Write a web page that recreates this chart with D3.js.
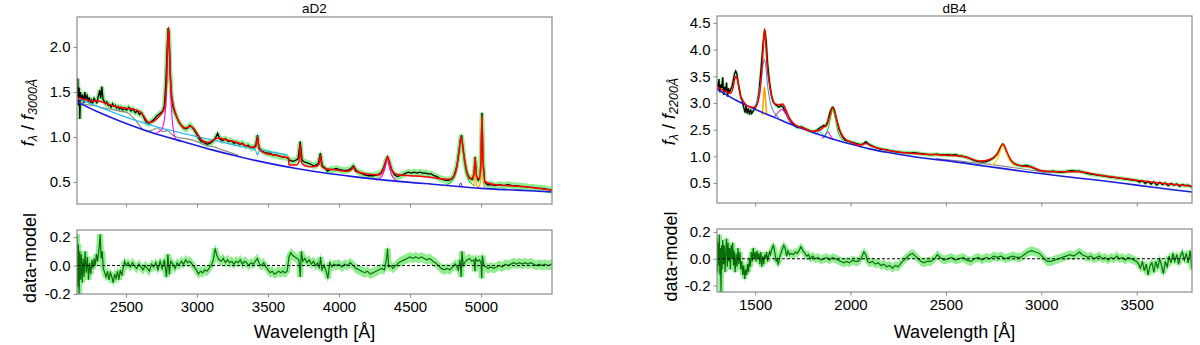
<!DOCTYPE html>
<meta charset="utf-8">
<style>
body { margin: 0; background: #fff; }
svg { font-family: "Liberation Sans", Arial, sans-serif; }
.frame { fill: none; stroke: #8a8a8a; stroke-width: 1.2; }
.tick line { stroke: #8a8a8a; }
.tick text { font-size: 15px; fill: #000; }
</style>
<svg width="1200" height="345"></svg>
<script src="https://cdn.jsdelivr.net/npm/d3@7"></script>
<script>

// ---------- aD2 (left) ----------
var aD2Data = [[2155,1.45],[2160,1.65],[2165,1.35],[2170,1.55],[2175,1.2],[2180,1.5],[2188,1.4],[2195,1.47],[2203,1.38],[2210,1.5],[2218,1.42],[2226,1.46],[2234,1.4],[2242,1.44],[2250,1.37],[2258,1.41],[2266,1.38],[2275,1.43],[2285,1.4],[2295,1.38],[2305,1.45],[2315,1.52],[2322,1.43],[2330,1.56],[2338,1.42],[2346,1.4],[2355,1.37],[2365,1.39],[2375,1.35],[2385,1.36],[2395,1.33],[2405,1.37],[2415,1.34],[2425,1.35],[2435,1.32],[2445,1.34],[2455,1.31],[2465,1.33],[2475,1.3],[2490,1.32],[2505,1.3],[2520,1.33],[2535,1.29],[2550,1.31],[2565,1.27],[2580,1.29],[2595,1.25],[2610,1.27],[2625,1.22],[2640,1.17],[2655,1.15],[2670,1.16],[2685,1.18],[2700,1.2],[2715,1.23],[2730,1.25],[2745,1.27],[2760,1.29],[2770,1.35],[2780,1.58],[2790,1.98],[2797,2.21],[2803,2.15],[2810,1.75],[2820,1.45],[2832,1.33],[2845,1.27],[2860,1.21],[2875,1.16],[2890,1.13],[2905,1.1],[2920,1.09],[2935,1.1],[2950,1.13],[2965,1.11],[2980,1.08],[2995,1.04],[3010,0.99],[3030,0.95],[3050,0.94],[3070,0.92],[3090,0.93],[3110,0.95],[3130,0.99],[3145,1.04],[3160,0.98],[3180,0.96],[3200,0.98],[3220,0.95],[3240,0.96],[3260,0.93],[3280,0.94],[3300,0.92],[3320,0.93],[3340,0.9],[3360,0.91],[3380,0.88],[3400,0.88],[3415,0.92],[3426,1.02],[3436,0.88],[3455,0.85],[3475,0.83],[3495,0.82],[3515,0.82],[3535,0.8],[3555,0.8],[3575,0.79],[3595,0.78],[3615,0.78],[3635,0.77],[3655,0.74],[3675,0.73],[3695,0.74],[3712,0.76],[3727,0.95],[3740,0.74],[3760,0.72],[3780,0.71],[3800,0.7],[3820,0.68],[3840,0.69],[3855,0.71],[3869,0.82],[3882,0.68],[3900,0.66],[3920,0.62],[3940,0.64],[3960,0.64],[3980,0.65],[4000,0.64],[4030,0.63],[4060,0.63],[4085,0.65],[4102,0.68],[4120,0.63],[4150,0.6],[4180,0.58],[4210,0.57],[4240,0.57],[4270,0.58],[4295,0.6],[4315,0.66],[4330,0.74],[4342,0.78],[4355,0.72],[4370,0.64],[4390,0.58],[4410,0.56],[4430,0.57],[4450,0.58],[4470,0.6],[4490,0.61],[4510,0.6],[4530,0.61],[4550,0.6],[4570,0.61],[4590,0.6],[4610,0.6],[4630,0.59],[4650,0.59],[4670,0.57],[4690,0.56],[4710,0.54],[4730,0.53],[4750,0.52],[4770,0.52],[4790,0.53],[4810,0.57],[4830,0.68],[4845,0.85],[4855,0.98],[4863,1.02],[4872,0.9],[4885,0.72],[4900,0.6],[4920,0.54],[4940,0.53],[4952,0.6],[4959,0.78],[4966,0.58],[4980,0.52],[4995,0.55],[5000,0.8],[5007,1.27],[5014,0.75],[5025,0.5],[5045,0.47],[5070,0.47],[5100,0.46],[5130,0.47],[5160,0.46],[5190,0.47],[5220,0.46],[5250,0.46],[5280,0.45],[5310,0.45],[5340,0.44],[5370,0.44],[5400,0.43],[5430,0.43],[5460,0.42],[5500,0.41]];

var aD2Model = [[2155,1.44],[2200,1.42],[2250,1.4],[2300,1.4],[2350,1.38],[2400,1.35],[2450,1.33],[2500,1.32],[2550,1.31],[2600,1.28],[2630,1.22],[2660,1.16],[2700,1.18],[2740,1.24],[2770,1.32],[2785,1.6],[2795,2.05],[2800,2.22],[2805,2.05],[2815,1.6],[2830,1.38],[2850,1.26],[2880,1.15],[2920,1.1],[2950,1.12],[2975,1.1],[3000,1.04],[3040,0.96],[3080,0.94],[3120,0.97],[3150,0.99],[3200,0.97],[3260,0.95],[3320,0.92],[3380,0.89],[3415,0.89],[3426,1.0],[3437,0.87],[3480,0.82],[3550,0.8],[3600,0.78],[3645,0.77],[3647,0.69],[3660,0.69],[3700,0.69],[3718,0.72],[3727,0.92],[3736,0.72],[3760,0.68],[3800,0.67],[3850,0.68],[3860,0.7],[3869,0.8],[3878,0.68],[3900,0.65],[3950,0.64],[4000,0.63],[4060,0.62],[4090,0.64],[4102,0.67],[4115,0.62],[4200,0.59],[4280,0.58],[4310,0.63],[4330,0.73],[4342,0.78],[4355,0.72],[4380,0.61],[4420,0.58],[4500,0.57],[4600,0.56],[4700,0.54],[4780,0.53],[4820,0.6],[4845,0.82],[4861,1.0],[4875,0.85],[4900,0.62],[4930,0.54],[4950,0.58],[4959,0.77],[4968,0.56],[4990,0.54],[5000,0.75],[5007,1.24],[5014,0.72],[5030,0.5],[5100,0.47],[5200,0.46],[5300,0.45],[5400,0.43],[5500,0.41]];

var aD2PowerLaw = [[2155,1.39],[2300,1.28],[2500,1.15],[2700,1.04],[2900,0.95],[3100,0.86],[3300,0.78],[3500,0.71],[3700,0.65],[3900,0.6],[4100,0.56],[4400,0.51],[4700,0.47],[5000,0.43],[5250,0.41],[5500,0.39]];
var aD2Balmer = [[2155,1.43],[2300,1.34],[2500,1.22],[2700,1.12],[2900,1.04],[3100,0.97],[3300,0.9],[3410,0.86],[3426,0.8],[3442,0.86],[3500,0.84],[3640,0.8]];
var aD2FeII = [[2170,1.39],[2220,1.36],[2270,1.35],[2320,1.33],[2390,1.31],[2450,1.29],[2510,1.27],[2560,1.2],[2610,1.1],[2650,1.06],[2690,1.08],[2720,1.1],[2760,1.06],[2790,1.07],[2830,1.02],[2880,0.99],[2930,0.98],[2980,0.96],[3030,0.93],[3080,0.9],[3120,0.89],[3170,0.86],[3230,0.83],[3290,0.8]];
var aD2MgII = [[2700,1.04],[2750,1.08],[2775,1.25],[2788,1.65],[2796,2.08],[2800,2.2],[2806,2.0],[2815,1.5],[2830,1.12],[2850,0.98],[2880,0.95]];
var aD2Hg = [[4260,0.52],[4300,0.56],[4325,0.66],[4340,0.76],[4355,0.66],[4380,0.55],[4420,0.5]];
var aD2Hb = [[4760,0.47],[4810,0.54],[4840,0.78],[4855,0.96],[4861,1.0],[4870,0.9],[4890,0.64],[4920,0.5],[4960,0.46]];
var aD2Hbn = [[4845,0.45],[4858,0.49],[4866,0.45]];
var aD2OIII = [[4945,0.45],[4952,0.5],[4959,0.76],[4966,0.5],[4973,0.45],[4985,0.45],[4995,0.5],[5001,0.85],[5007,1.22],[5013,0.8],[5020,0.46],[5030,0.44]];

var aD2Resid = [[2155,0.22],[2160,-0.15],[2165,0.15],[2170,-0.2],[2175,0.1],[2180,-0.1],[2186,0.08],[2192,-0.12],[2198,0.05],[2205,-0.08],[2212,0.1],[2220,-0.05],[2228,0.06],[2236,-0.1],[2244,0.02],[2252,-0.06],[2260,0.04],[2268,-0.02],[2276,0.05],[2284,0.0],[2292,0.08],[2300,0.03],[2310,0.12],[2318,0.22],[2325,0.05],[2333,0.1],[2340,-0.02],[2350,-0.05],[2360,-0.08],[2370,-0.04],[2380,-0.1],[2390,-0.05],[2400,-0.08],[2410,-0.12],[2420,-0.06],[2430,-0.09],[2440,-0.04],[2450,-0.1],[2460,-0.03],[2470,-0.07],[2480,-0.02],[2490,0.03],[2500,0.0],[2515,0.02],[2530,-0.01],[2545,0.02],[2560,0.0],[2575,-0.02],[2590,0.01],[2605,-0.01],[2620,-0.03],[2635,0.0],[2650,-0.02],[2665,-0.04],[2680,0.01],[2695,-0.01],[2710,0.02],[2725,-0.03],[2740,0.03],[2755,-0.02],[2770,0.04],[2785,-0.08],[2795,0.08],[2805,-0.06],[2815,0.03],[2830,0.01],[2845,-0.02],[2860,0.02],[2875,0.0],[2890,0.03],[2905,0.01],[2920,0.04],[2935,0.02],[2950,0.03],[2965,0.01],[2980,-0.01],[2995,-0.03],[3010,-0.06],[3025,-0.04],[3040,-0.05],[3055,-0.03],[3070,-0.04],[3085,-0.02],[3100,0.0],[3115,0.04],[3128,0.12],[3140,0.07],[3155,0.04],[3170,0.03],[3185,0.05],[3200,0.02],[3215,0.04],[3230,0.02],[3245,0.03],[3260,0.01],[3275,0.03],[3290,0.02],[3305,0.04],[3320,0.01],[3335,0.03],[3350,0.02],[3365,0.0],[3380,0.02],[3395,0.01],[3410,0.03],[3425,0.05],[3440,0.01],[3455,0.0],[3470,0.02],[3485,-0.01],[3500,-0.03],[3515,-0.05],[3530,-0.04],[3545,-0.06],[3560,-0.05],[3575,-0.04],[3590,-0.05],[3605,-0.04],[3620,-0.05],[3635,-0.04],[3648,0.06],[3660,0.09],[3675,0.07],[3690,0.06],[3705,0.05],[3718,0.04],[3727,-0.08],[3735,0.1],[3745,0.03],[3760,0.05],[3775,0.02],[3790,0.04],[3805,0.01],[3820,0.03],[3835,0.0],[3850,0.02],[3862,-0.02],[3870,0.06],[3880,-0.03],[3895,0.0],[3910,-0.04],[3922,-0.09],[3935,0.02],[3950,-0.01],[3965,0.01],[3980,0.0],[4000,0.01],[4020,-0.01],[4040,0.01],[4060,0.0],[4080,0.02],[4100,0.0],[4120,-0.02],[4140,-0.03],[4160,-0.04],[4180,-0.05],[4200,-0.04],[4220,-0.06],[4240,-0.05],[4260,-0.04],[4280,-0.03],[4300,-0.02],[4320,-0.03],[4335,0.05],[4342,0.12],[4350,-0.01],[4365,0.0],[4380,-0.02],[4400,0.0],[4420,0.02],[4440,0.03],[4460,0.04],[4480,0.05],[4500,0.06],[4520,0.05],[4540,0.06],[4560,0.05],[4580,0.06],[4600,0.05],[4620,0.04],[4640,0.05],[4660,0.03],[4680,0.02],[4700,0.0],[4720,-0.02],[4740,-0.03],[4760,-0.02],[4780,-0.03],[4800,-0.01],[4820,0.01],[4840,-0.03],[4852,0.04],[4860,-0.08],[4866,0.1],[4875,0.0],[4890,0.03],[4905,0.04],[4920,0.05],[4935,0.03],[4950,0.04],[4958,-0.04],[4962,0.05],[4975,0.03],[4990,0.04],[5000,0.02],[5005,-0.09],[5010,0.07],[5020,0.0],[5035,-0.01],[5050,-0.02],[5070,-0.01],[5090,-0.02],[5110,-0.01],[5130,0.0],[5150,-0.01],[5170,0.01],[5190,0.0],[5210,0.01],[5230,0.02],[5250,0.01],[5270,0.02],[5290,0.01],[5310,0.02],[5330,0.01],[5350,0.02],[5370,0.01],[5390,0.0],[5410,0.01],[5430,0.0],[5450,0.01],[5470,0.0],[5500,0.01]];

// ---------- dB4 (right) ----------
var dB4Data = [[1300,2.38],[1305,2.25],[1310,2.45],[1315,2.2],[1320,2.35],[1325,2.28],[1330,2.48],[1335,2.15],[1340,2.3],[1345,2.22],[1350,2.38],[1355,2.12],[1360,2.28],[1365,2.18],[1370,2.25],[1378,2.3],[1385,2.42],[1392,2.55],[1398,2.6],[1404,2.55],[1410,2.4],[1418,2.25],[1425,2.1],[1432,2.05],[1440,1.92],[1447,1.82],[1452,1.95],[1458,1.8],[1464,1.9],[1470,1.78],[1476,1.88],[1482,1.8],[1490,1.85],[1500,1.9],[1510,2.0],[1520,2.2],[1530,2.6],[1540,3.05],[1547,3.3],[1552,3.35],[1558,3.15],[1565,2.75],[1575,2.4],[1585,2.15],[1595,2.02],[1605,1.97],[1615,1.95],[1625,1.92],[1635,1.95],[1645,1.93],[1655,1.85],[1665,1.78],[1675,1.7],[1685,1.65],[1700,1.6],[1715,1.55],[1730,1.54],[1745,1.55],[1760,1.52],[1775,1.5],[1790,1.47],[1805,1.46],[1820,1.48],[1835,1.52],[1850,1.56],[1860,1.58],[1870,1.57],[1880,1.65],[1890,1.8],[1900,1.9],[1908,1.92],[1916,1.85],[1926,1.7],[1940,1.5],[1955,1.38],[1970,1.3],[1990,1.28],[2010,1.26],[2030,1.24],[2050,1.22],[2065,1.23],[2080,1.27],[2095,1.23],[2110,1.2],[2130,1.17],[2150,1.14],[2170,1.13],[2190,1.12],[2210,1.1],[2230,1.09],[2250,1.08],[2270,1.07],[2290,1.07],[2310,1.06],[2330,1.07],[2350,1.06],[2370,1.05],[2390,1.04],[2410,1.03],[2430,1.03],[2450,1.04],[2470,1.03],[2490,1.03],[2510,1.03],[2530,1.02],[2550,1.03],[2570,1.01],[2590,1.0],[2610,0.98],[2630,0.95],[2650,0.92],[2670,0.9],[2690,0.89],[2710,0.9],[2730,0.93],[2750,0.97],[2770,1.05],[2785,1.15],[2797,1.23],[2805,1.2],[2815,1.1],[2830,0.98],[2845,0.9],[2860,0.86],[2880,0.83],[2900,0.82],[2920,0.83],[2940,0.81],[2960,0.78],[2980,0.74],[3000,0.72],[3020,0.71],[3040,0.71],[3060,0.72],[3080,0.71],[3100,0.7],[3120,0.71],[3140,0.72],[3160,0.73],[3180,0.72],[3200,0.72],[3220,0.7],[3240,0.68],[3260,0.665],[3280,0.655],[3300,0.645],[3320,0.635],[3340,0.625],[3360,0.61],[3380,0.605],[3400,0.595],[3420,0.585],[3440,0.575],[3460,0.565],[3480,0.555],[3500,0.545],[3515,0.52],[3530,0.54],[3545,0.49],[3560,0.53],[3575,0.48],[3590,0.52],[3605,0.46],[3620,0.51],[3635,0.47],[3650,0.5],[3665,0.45],[3680,0.49],[3695,0.46],[3710,0.48],[3725,0.44],[3740,0.47],[3755,0.45],[3770,0.46],[3790,0.42]];

var dB4Model = [[1300,2.3],[1340,2.22],[1370,2.18],[1385,2.3],[1395,2.48],[1400,2.5],[1408,2.42],[1420,2.18],[1440,2.02],[1470,1.93],[1500,1.92],[1520,2.1],[1535,2.6],[1545,3.2],[1549,3.39],[1553,3.25],[1562,2.75],[1575,2.35],[1590,2.08],[1610,1.97],[1630,1.97],[1645,1.98],[1660,1.88],[1680,1.72],[1700,1.62],[1750,1.53],[1800,1.47],[1840,1.49],[1860,1.55],[1875,1.58],[1890,1.75],[1905,1.9],[1912,1.9],[1925,1.72],[1945,1.48],[1970,1.33],[2000,1.27],[2050,1.21],[2080,1.24],[2110,1.19],[2200,1.11],[2300,1.06],[2400,1.04],[2500,1.02],[2600,0.99],[2680,0.91],[2730,0.94],[2770,1.05],[2790,1.2],[2800,1.23],[2810,1.17],[2830,1.0],[2860,0.86],[2900,0.82],[2950,0.8],[3000,0.73],[3100,0.71],[3200,0.71],[3300,0.65],[3400,0.6],[3500,0.55],[3600,0.51],[3700,0.47],[3790,0.44]];

var dB4PowerLaw = [[1300,2.26],[1400,2.05],[1500,1.88],[1600,1.73],[1700,1.58],[1800,1.45],[1900,1.33],[2000,1.23],[2100,1.14],[2200,1.07],[2300,1.01],[2400,0.96],[2500,0.92],[2700,0.82],[2900,0.72],[3100,0.63],[3300,0.55],[3500,0.46],[3700,0.37],[3790,0.33]];
var dB4CIVbroad = [[1490,1.9],[1515,2.08],[1532,2.45],[1543,2.75],[1549,2.82],[1556,2.68],[1566,2.3],[1580,2.0],[1600,1.82],[1625,1.72]];
var dB4CIVnarrow = [[1538,1.78],[1545,2.15],[1549,2.3],[1553,2.15],[1560,1.78]];
var dB4HeII = [[1600,1.74],[1620,1.82],[1640,1.88],[1660,1.8],[1690,1.6]];
var dB4AlIII = [[1815,1.4],[1838,1.46],[1858,1.4]];
var dB4SiIII = [[1850,1.34],[1870,1.4],[1882,1.46],[1895,1.38],[1912,1.31]];
var dB4CIII = [[1860,1.35],[1885,1.55],[1900,1.8],[1908,1.87],[1918,1.75],[1935,1.45],[1960,1.3]];
var dB4MgII = [[2740,0.84],[2770,0.95],[2790,1.15],[2800,1.22],[2810,1.15],[2830,0.95],[2860,0.82]];
var dB4FeII = [[2450,0.96],[2550,0.92],[2650,0.88],[2750,0.84],[2850,0.79],[2950,0.74],[3050,0.69]];

var dB4Resid = [[1300,0.15],[1303,-0.1],[1306,0.12],[1309,-0.05],[1312,0.18],[1315,-0.12],[1318,0.08],[1321,-0.25],[1324,0.1],[1327,-0.08],[1330,0.14],[1334,-0.04],[1338,0.1],[1342,-0.1],[1346,0.05],[1350,0.15],[1354,-0.06],[1358,0.12],[1362,-0.02],[1366,0.08],[1370,-0.08],[1374,0.1],[1378,0.0],[1382,0.12],[1386,-0.05],[1390,0.06],[1395,-0.1],[1400,0.04],[1405,-0.06],[1410,0.08],[1415,-0.04],[1420,0.05],[1425,-0.08],[1430,-0.02],[1435,-0.12],[1440,-0.05],[1445,-0.15],[1450,-0.08],[1455,-0.12],[1460,-0.04],[1465,-0.1],[1470,0.0],[1475,-0.06],[1480,0.05],[1485,-0.02],[1490,0.08],[1495,0.0],[1500,0.05],[1505,-0.02],[1510,0.06],[1515,0.0],[1520,0.04],[1525,-0.04],[1530,0.05],[1535,-0.06],[1540,0.02],[1545,-0.04],[1550,0.03],[1555,0.0],[1560,0.05],[1565,-0.02],[1570,0.02],[1575,0.05],[1580,0.03],[1585,0.06],[1590,0.08],[1595,0.1],[1600,0.07],[1605,0.03],[1610,-0.02],[1615,0.0],[1620,-0.04],[1625,-0.02],[1630,0.02],[1640,0.06],[1650,0.1],[1657,0.08],[1665,0.02],[1672,0.06],[1680,0.03],[1690,0.04],[1700,0.03],[1710,0.05],[1720,0.04],[1730,0.06],[1740,0.09],[1750,0.06],[1760,0.04],[1770,0.02],[1780,0.03],[1790,0.0],[1800,0.02],[1815,0.0],[1830,0.01],[1845,-0.01],[1860,0.0],[1875,0.01],[1890,-0.01],[1905,0.01],[1920,0.0],[1935,-0.01],[1950,-0.02],[1965,-0.03],[1980,-0.02],[1995,-0.03],[2010,-0.01],[2025,-0.02],[2040,-0.02],[2055,0.0],[2070,0.05],[2080,0.03],[2090,-0.02],[2100,-0.03],[2115,-0.02],[2130,-0.04],[2145,-0.03],[2160,-0.05],[2175,-0.04],[2190,-0.06],[2205,-0.05],[2220,-0.07],[2235,-0.05],[2250,-0.06],[2265,-0.03],[2280,-0.01],[2295,0.01],[2310,0.03],[2325,0.04],[2340,0.02],[2355,0.0],[2370,-0.02],[2385,-0.03],[2400,-0.02],[2420,-0.02],[2440,0.0],[2455,0.03],[2470,0.01],[2490,-0.01],[2510,0.0],[2530,0.01],[2550,-0.01],[2570,0.0],[2590,0.01],[2610,-0.01],[2630,-0.02],[2650,0.0],[2670,0.01],[2690,-0.01],[2710,0.01],[2730,0.0],[2750,0.02],[2770,0.01],[2790,0.02],[2810,0.0],[2830,0.01],[2850,0.02],[2870,0.01],[2890,0.01],[2910,0.03],[2930,0.05],[2950,0.06],[2970,0.05],[2990,0.04],[3010,0.01],[3030,-0.02],[3050,-0.02],[3070,-0.01],[3090,0.0],[3110,0.01],[3130,0.02],[3150,0.03],[3170,0.02],[3190,0.04],[3200,0.05],[3215,0.03],[3230,0.02],[3245,0.01],[3260,0.02],[3275,0.0],[3290,0.01],[3305,0.02],[3320,0.0],[3335,0.01],[3350,-0.01],[3365,0.01],[3380,0.0],[3395,0.02],[3410,0.0],[3425,0.01],[3440,-0.01],[3455,0.01],[3470,0.0],[3485,-0.01],[3500,-0.02],[3510,-0.04],[3520,-0.07],[3530,-0.02],[3540,-0.09],[3550,-0.04],[3560,-0.12],[3570,-0.05],[3580,-0.03],[3590,-0.1],[3600,-0.02],[3610,-0.07],[3620,0.0],[3630,-0.05],[3640,-0.11],[3650,-0.02],[3660,-0.06],[3670,0.02],[3680,-0.03],[3690,0.04],[3700,-0.02],[3710,0.03],[3720,-0.04],[3730,0.02],[3740,0.05],[3750,-0.01],[3760,0.04],[3770,-0.03],[3780,0.06],[3790,-0.08]];

// tick values and labels
var aD2XTicks = [2500, 3000, 3500, 4000, 4500, 5000];
var aD2YTicks = [0.5, 1.0, 1.5, 2.0];
var aD2YLabels = ["0.5", "1.0", "1.5", "2.0"];
var dB4XTicks = [1500, 2000, 2500, 3000, 3500];
var dB4YTicks = [0.5, 1.0, 1.5, 2.0, 2.5, 3.0, 3.5];
var dB4YLabels = ["0.5", "1.0", "2.5", "3.0", "3.5", "4.0", "4.5"];
var residTicks = [-0.2, 0.0, 0.2];
var residLabels = ["-0.2", "0.0", "0.2"];

var svg = d3.select("svg");

var panels = [
  {id: "a", title: "aD2", left: 77, right: 552, top: 17, bottom: 204, rTop: 230, rBottom: 294,
   xDomain: [2155, 5500], yDomain: [0.256, 2.333], rDomain: [-0.2, 0.25],
   xTicks: aD2XTicks, yTicks: aD2YTicks, yLabels: aD2YLabels, norm: "3000Å",
   data: aD2Data, model: aD2Model, resid: aD2Resid, band: 3.5, rband: 5,
   comps: [
     {d: aD2FeII, c: "#8c8c8c", w: 1.2},
     {d: aD2Balmer, c: "#2fb8ee", w: 1.3},
     {d: aD2MgII, c: "#ff00ff", w: 1.1},
     {d: aD2Hg, c: "#ff00ff", w: 1.1},
     {d: aD2Hb, c: "#22cc22", w: 1.1},
     {d: aD2Hbn, c: "#3333cc", w: 1},
     {d: aD2OIII, c: "#ffa500", w: 1.2}
   ],
   pl: aD2PowerLaw, labelX: 28},
  {id: "b", title: "dB4", left: 717, right: 1192, top: 16, bottom: 203, rTop: 229, rBottom: 292,
   xDomain: [1300, 3790], yDomain: [0.125, 3.63], rDomain: [-0.248, 0.222],
   xTicks: dB4XTicks, yTicks: dB4YTicks, yLabels: dB4YLabels, norm: "2200Å",
   data: dB4Data, model: dB4Model, resid: dB4Resid, band: 2, rband: 4.5,
   comps: [
     {d: dB4FeII, c: "#8c8c8c", w: 1.1},
     {d: dB4CIVbroad, c: "#4a90e8", w: 1.1},
     {d: dB4CIVnarrow, c: "#ffa500", w: 1.6},
     {d: dB4HeII, c: "#cc33cc", w: 1.1},
     {d: dB4AlIII, c: "#33dddd", w: 1.1},
     {d: dB4SiIII, c: "#ff00ff", w: 1.1},
     {d: dB4CIII, c: "#22cc22", w: 1.1},
     {d: dB4MgII, c: "#f5e000", w: 1.3}
   ],
   pl: dB4PowerLaw, labelX: 669}
];

panels.forEach(drawPanel);

function drawPanel(p) {
  var x = d3.scaleLinear().domain(p.xDomain).range([p.left, p.right]);
  var y = d3.scaleLinear().domain(p.yDomain).range([p.bottom, p.top]);
  var yr = d3.scaleLinear().domain(p.rDomain).range([p.rBottom, p.rTop]);

  var defs = svg.append("defs");
  defs.append("clipPath").attr("id", "clip-" + p.id)
    .append("rect").attr("x", p.left).attr("y", p.top)
    .attr("width", p.right - p.left).attr("height", p.bottom - p.top);
  defs.append("clipPath").attr("id", "rclip-" + p.id)
    .append("rect").attr("x", p.left).attr("y", p.rTop)
    .attr("width", p.right - p.left).attr("height", p.rBottom - p.rTop);

  var raw = d3.line().x(function(d) { return x(d[0]); }).y(function(d) { return y(d[1]); });
  var smooth = d3.line().curve(d3.curveMonotoneX)
    .x(function(d) { return x(d[0]); }).y(function(d) { return y(d[1]); });
  var rline = d3.line().x(function(d) { return x(d[0]); }).y(function(d) { return yr(d[1]); });
  // error envelope, drawn as a vertical band around the curve
  var band = d3.area().x(function(d) { return x(d[0]); })
    .y0(function(d) { return y(d[1]) + p.band; })
    .y1(function(d) { return y(d[1]) - p.band; });
  var rband = d3.area().x(function(d) { return x(d[0]); })
    .y0(function(d) { return yr(d[1]) + p.rband; })
    .y1(function(d) { return yr(d[1]) - p.rband; });

  // main spectrum panel
  var g = svg.append("g").attr("clip-path", "url(#clip-" + p.id + ")");
  g.append("path").datum(p.data).attr("d", band).attr("fill", "#90ee90");
  g.append("path").datum(p.data).attr("d", raw)
    .attr("fill", "none").attr("stroke", "#90ee90").attr("stroke-width", p.band * 1.3)
    .attr("stroke-linejoin", "bevel");
  g.append("path").datum(p.data).attr("d", raw)
    .attr("fill", "none").attr("stroke", "#000").attr("stroke-width", 1.3);
  p.comps.forEach(function(c) {
    g.append("path").datum(c.d).attr("d", smooth)
      .attr("fill", "none").attr("stroke", c.c).attr("stroke-width", c.w);
  });
  g.append("path").datum(p.pl).attr("d", smooth)
    .attr("fill", "none").attr("stroke", "#1a1ae0").attr("stroke-width", 1.6);
  g.append("path").datum(p.model).attr("d", smooth)
    .attr("fill", "none").attr("stroke", "#ff0000").attr("stroke-width", 1.5);

  svg.append("rect").attr("class", "frame")
    .attr("x", p.left).attr("y", p.top)
    .attr("width", p.right - p.left).attr("height", p.bottom - p.top);

  var ax = svg.append("g").attr("transform", "translate(0," + p.bottom + ")")
    .call(d3.axisBottom(x).tickValues(p.xTicks).tickSize(3.5).tickFormat(""));
  ax.select(".domain").remove();
  var ay = svg.append("g").attr("transform", "translate(" + p.left + ",0)")
    .call(d3.axisLeft(y).tickValues(p.yTicks).tickSize(3.5).tickPadding(3)
      .tickFormat(function(d, i) { return p.yLabels[i]; }));
  ay.select(".domain").remove();

  svg.append("text").attr("x", (p.left + p.right) / 2).attr("y", 13)
    .attr("text-anchor", "middle").style("font-size", "13.5px").text(p.title);

  // y label f_lambda / f_norm
  var yl = svg.append("text")
    .attr("transform", "translate(" + p.labelX + "," + ((p.top + p.bottom) / 2 + 2) + ") rotate(-90)")
    .attr("text-anchor", "middle").attr("dy", "0.35em").style("font-size", "18px");
  yl.append("tspan").style("font-style", "italic").text("f");
  yl.append("tspan").attr("baseline-shift", "-25%").style("font-size", "12.5px").style("font-style", "italic").text("λ");
  yl.append("tspan").text(" / ");
  yl.append("tspan").style("font-style", "italic").text("f");
  yl.append("tspan").attr("baseline-shift", "-25%").style("font-size", "12.5px").style("font-style", "italic").text(p.norm);

  // residual panel
  var rg = svg.append("g").attr("clip-path", "url(#rclip-" + p.id + ")");
  rg.append("path").datum(p.resid).attr("d", rband).attr("fill", "#90ee90");
  rg.append("path").datum(p.resid).attr("d", rline)
    .attr("fill", "none").attr("stroke", "#90ee90").attr("stroke-width", p.rband * 1.2)
    .attr("stroke-linejoin", "bevel");
  rg.append("path").datum(p.resid).attr("d", rline)
    .attr("fill", "none").attr("stroke", "#0a6e0a").attr("stroke-width", 1.2);
  rg.append("line")
    .attr("x1", p.left).attr("x2", p.right).attr("y1", yr(0)).attr("y2", yr(0))
    .attr("stroke", "#000").attr("stroke-width", 1).attr("stroke-dasharray", "3,2");

  svg.append("rect").attr("class", "frame")
    .attr("x", p.left).attr("y", p.rTop)
    .attr("width", p.right - p.left).attr("height", p.rBottom - p.rTop);

  var rx = svg.append("g").attr("transform", "translate(0," + p.rBottom + ")")
    .call(d3.axisBottom(x).tickValues(p.xTicks).tickSize(3.5).tickPadding(4)
      .tickFormat(d3.format("d")));
  rx.select(".domain").remove();
  var ry = svg.append("g").attr("transform", "translate(" + p.left + ",0)")
    .call(d3.axisLeft(yr).tickValues(residTicks).tickSize(3.5).tickPadding(3)
      .tickFormat(function(d, i) { return residLabels[i]; }));
  ry.select(".domain").remove();

  svg.append("text")
    .attr("transform", "translate(" + (p.labelX + 2) + "," + ((p.rTop + p.rBottom) / 2 - 4) + ") rotate(-90)")
    .attr("text-anchor", "middle").attr("dy", "0.35em").style("font-size", "18px")
    .text("data-model");

  svg.append("text").attr("x", (p.left + p.right) / 2).attr("y", 338)
    .attr("text-anchor", "middle").style("font-size", "18px").text("Wavelength [Å]");
}

</script>
